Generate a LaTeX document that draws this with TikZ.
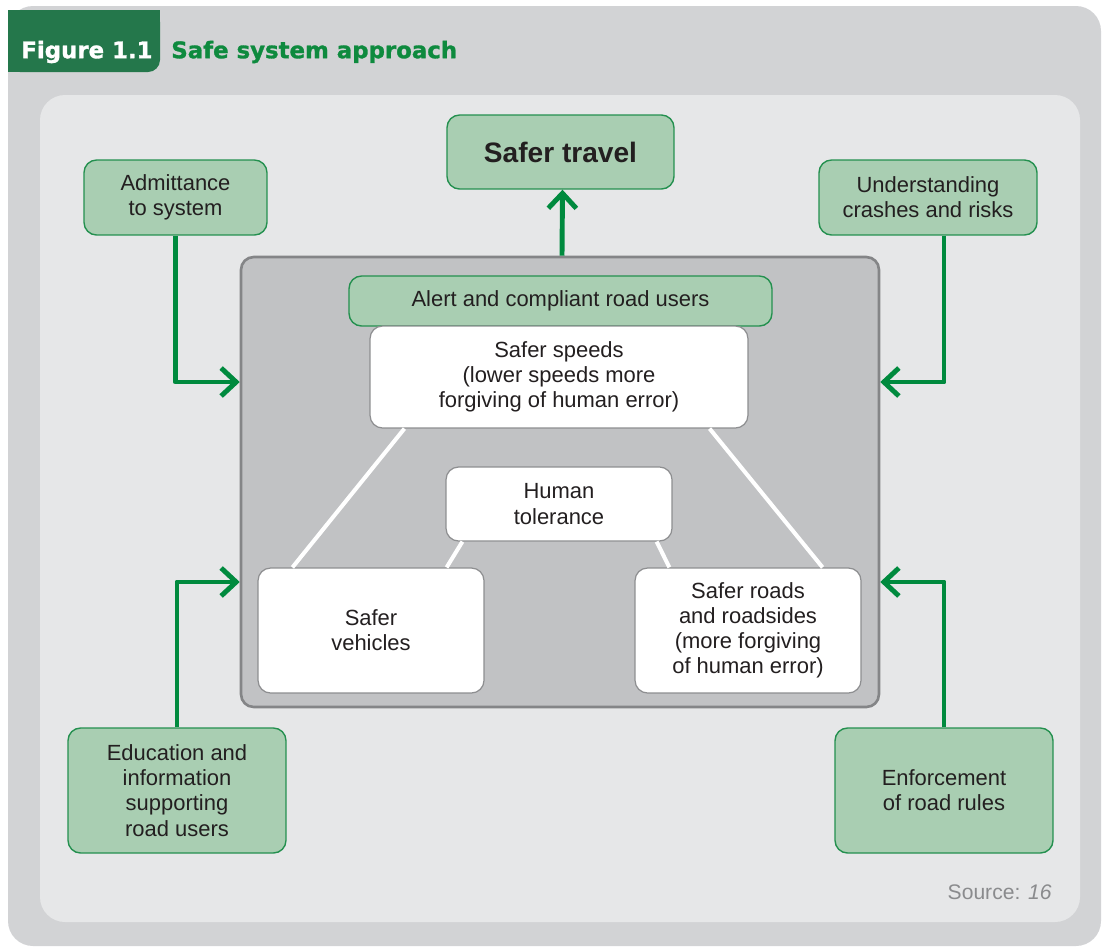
\documentclass[tikz,border=0pt]{standalone}
\usepackage{fontspec}
\setmainfont{Liberation Sans}
\newfontfamily\headfont[BoldFeatures={FakeBold=1.3}]{DejaVu Sans}
\usepackage{tikz}
\usetikzlibrary{arrows.meta}

\definecolor{outergrey}{HTML}{D2D3D5}
\definecolor{innergrey}{HTML}{E6E7E8}
\definecolor{tabgreen}{HTML}{24774B}
\definecolor{titlegreen}{HTML}{0E8A3E}
\definecolor{boxfill}{HTML}{A9CEB2}
\definecolor{boxgreen}{HTML}{24904F}
\definecolor{arrowgreen}{HTML}{008A3E}
\definecolor{sysfill}{HTML}{C1C2C4}
\definecolor{sysedge}{HTML}{848587}
\definecolor{edgegrey}{HTML}{8E8F91}
\definecolor{ink}{HTML}{231F20}
\definecolor{srcgrey}{HTML}{8A8B8D}

\tikzset{
    body/.style={font=\fontsize{12.5}{14.3}\selectfont, text=ink, align=center, inner sep=0pt},
    greenbox/.style={body, draw=boxgreen, line width=0.8pt, fill=boxfill, rounded corners=0.25cm},
    whitebox/.style={body, draw=edgegrey, line width=0.7pt, fill=white, rounded corners=0.25cm},
    feed/.style={draw=arrowgreen, line width=2.8pt, line join=round, -{Straight Barb[length=0.3cm,width=0.56cm]}},
    link/.style={draw=white, line width=2.3pt}
}

\begin{document}
\begin{tikzpicture}[x=0.02cm,y=-0.02cm]
            \useasboundingbox (0,0) rectangle (1102,947);
            \fill[outergrey, rounded corners=0.5cm] (8,6) rectangle (1101,946);
            \fill[innergrey, rounded corners=0.5cm] (40,95) rectangle (1080,922);
            \fill[tabgreen, rounded corners=0.24cm] (8,10) rectangle (160,72);
            \fill[tabgreen] (8,10) rectangle (140,72);
            \fill[tabgreen] (8,10) rectangle (160,50);

            \node[anchor=west, inner sep=0pt, text=white, font=\headfont\bfseries\fontsize{13}{15}\selectfont] (fig) at (21,52) {Figure 1.1};
            \node[anchor=west, inner sep=0pt, text=titlegreen, font=\headfont\bfseries\fontsize{13}{15}\selectfont] (title) at (171,52) {Safe system approach};

            \node[draw=sysedge, line width=1.5pt, fill=sysfill, rounded corners=0.25cm, minimum width=12.76cm, minimum height=9cm] (system) at (560,482) {};

            \begin{scope}[every node/.style={greenbox}]
                \node[minimum width=4.54cm, minimum height=1.48cm, font=\fontsize{16}{19}\selectfont\bfseries] (travel) at (560.5,152) {Safer travel};
                \node[minimum width=3.66cm, minimum height=1.5cm] (admit) at (175.5,197.5) {Admittance\\to system};
                \node[minimum width=4.36cm, minimum height=1.5cm] (risks) at (928,197.5) {Understanding\\crashes and risks};
                \node[minimum width=4.36cm, minimum height=2.5cm] (educ) at (177,790.5) {Education and\\information\\supporting\\road users};
                \node[minimum width=4.36cm, minimum height=2.5cm] (enforce) at (944,790.5) {Enforcement\\of road rules};
                \node[minimum width=8.46cm, minimum height=1cm] (alert) at (560.5,301) {Alert and compliant road users};
            \end{scope}

            \begin{scope}[every node/.style={whitebox}]
                \node[minimum width=7.56cm, minimum height=2.04cm] (speeds) at (559,377) {Safer speeds\\(lower speeds more\\forgiving of human error)};
                \node[minimum width=4.52cm, minimum height=1.48cm] (human) at (559,504) {Human\\tolerance};
                \node[minimum width=4.52cm, minimum height=2.5cm] (vehicles) at (371,630.5) {Safer\\vehicles};
                \node[minimum width=4.52cm, minimum height=2.5cm] (roads) at (748,630.5) {Safer roads\\and roadsides\\(more forgiving\\of human error)};
            \end{scope}

            \begin{scope}[every path/.style={link}]
                \path ([xshift=0.7cm]speeds.south west) edge ([xshift=0.7cm]vehicles.north west);
                \path ([xshift=-0.78cm]speeds.south east) edge ([xshift=-0.78cm]roads.north east);
                \path ([xshift=0.34cm]human.south west) edge ([xshift=-0.76cm]vehicles.north east);
                \path ([xshift=-0.32cm]human.south east) edge ([xshift=0.7cm]roads.north west);
            \end{scope}

            \begin{scope}[every path/.style={feed}]
                \draw ([xshift=0.04cm]system.north) -- ([xshift=0.04cm]travel.south);
                \draw (admit.south) |- ([yshift=2cm]system.west);
                \draw (risks.south -| enforce.north) |- ([yshift=2cm]system.east);
                \draw (educ.north) |- ([yshift=-2cm]system.west);
                \draw (enforce.north) |- ([yshift=-2cm]system.east);
            \end{scope}

            \node[anchor=east, inner sep=0pt, text=srcgrey, font=\fontsize{12}{14}\selectfont] (source) at (1052,892) {Source: \textit{16}};
        \end{tikzpicture}
\end{document}
